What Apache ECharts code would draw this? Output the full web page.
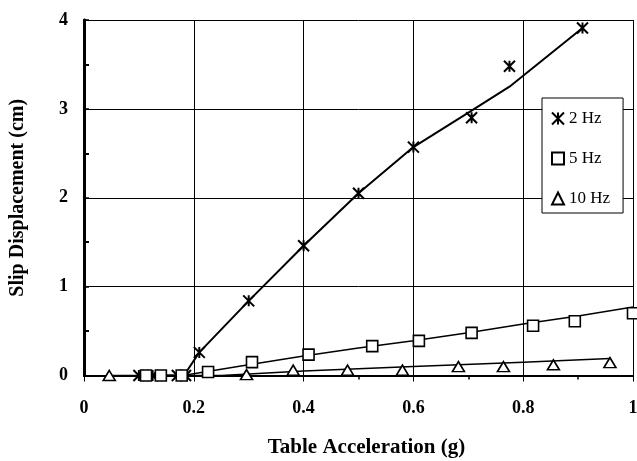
<!DOCTYPE html>
<html>
<head>
<meta charset="utf-8">
<script src="https://cdn.jsdelivr.net/npm/echarts@6/dist/echarts.min.js"></script>
<style>
  html, body { margin: 0; padding: 0; background: #fff; }
  #chart { width: 637px; height: 461px; }
</style>
</head>
<body>
<div id="chart"></div>
<script>
// Measured slip displacement vs. table acceleration at three shaking frequencies
const hz2X = [0.10, 0.125, 0.17, 0.185, 0.21, 0.30, 0.40, 0.50, 0.60, 0.706, 0.775, 0.908];
const hz2Y = [0, 0, 0, 0, 0.26, 0.84, 1.46, 2.05, 2.57, 2.90, 3.48, 3.91];
const hz5X = [0.113, 0.14, 0.178, 0.226, 0.306, 0.409, 0.525, 0.61, 0.706, 0.818, 0.894, 1.0];
const hz5Y = [0, 0, 0, 0.04, 0.15, 0.235, 0.33, 0.39, 0.48, 0.56, 0.61, 0.70];
const hz10X = [0.046, 0.296, 0.381, 0.48, 0.58, 0.682, 0.764, 0.855, 0.958];
const hz10Y = [0, 0.01, 0.06, 0.06, 0.06, 0.10, 0.10, 0.12, 0.145];

// Trend lines drawn through each data set
const fit2X = [0.10, 0.182, 0.21, 0.30, 0.40, 0.50, 0.60, 0.706, 0.775, 0.908];
const fit2Y = [0, 0, 0.26, 0.84, 1.46, 2.05, 2.57, 2.98, 3.25, 3.91];
const fit5X = [0.11, 0.18, 0.30, 0.40, 0.50, 0.60, 0.70, 0.80, 0.90, 1.0];
const fit5Y = [0, 0, 0.12, 0.22, 0.31, 0.39, 0.48, 0.58, 0.67, 0.77];
const fit10X = [0.04, 0.25, 0.40, 0.60, 0.80, 0.958];
const fit10Y = [0, 0, 0.05, 0.10, 0.15, 0.19];

const seriesNames = ['2 Hz', '5 Hz', '10 Hz'];
const xTickLabels = ['0', '0.2', '0.4', '0.6', '0.8', '1'];
const yTickLabels = ['0', '1', '2', '3', '4'];

const pairs = (xs, ys) => xs.map((x, i) => [x, ys[i]]);
const SERIF = '"Liberation Serif", "DejaVu Serif", serif';
const asterisk = 'path://M0,0L10,10M10,0L0,10M5,0L5,10';

const chart = echarts.init(document.getElementById('chart'), null, { renderer: 'canvas' });

chart.setOption({
  backgroundColor: '#fff',
  animation: false,
  grid: { left: 84, top: 20, right: 4, bottom: 85.5, containLabel: false, outerBoundsMode: 'none' },
  legend: {
    data: seriesNames,
    orient: 'vertical',
    left: 542,
    top: 98,
    padding: [12, 13, 6, 9],
    itemGap: 23,
    itemWidth: 12,
    itemHeight: 12,
    backgroundColor: '#fff',
    borderColor: '#000',
    borderWidth: 1,
    borderRadius: 0,
    textStyle: { fontFamily: SERIF, fontSize: 17, color: '#000' }
  },
  xAxis: [{
    type: 'value',
    min: 0, max: 1, interval: 0.2,
    name: 'Table Acceleration (g)',
    nameLocation: 'middle',
    nameGap: 62,
    nameTextStyle: { fontFamily: SERIF, fontSize: 21, fontWeight: 'bold', color: '#000', padding: [0, 0, 0, 16] },
    axisLine: { show: true, onZero: false, lineStyle: { color: '#000', width: 2 } },
    axisTick: { show: true, inside: false, length: 6, lineStyle: { color: '#000', width: 1 } },
    minorTick: { show: true, splitNumber: 2, length: 4, lineStyle: { color: '#000', width: 1.5 } },
    axisLabel: {
      margin: 24, fontFamily: SERIF, fontSize: 18, fontWeight: 'bold', color: '#000',
      formatter: v => xTickLabels[Math.round(v / 0.2)]
    },
    splitLine: { show: true, lineStyle: { color: '#000', width: 1 } }
  }, {
    type: 'value', position: 'top', min: 0, max: 1,
    axisLine: { show: true, lineStyle: { color: '#000', width: 2 } },
    axisTick: { show: false }, axisLabel: { show: false }, splitLine: { show: false }
  }],
  yAxis: [{
    type: 'value',
    min: 0, max: 4, interval: 1,
    name: 'Slip Displacement (cm)',
    nameLocation: 'middle',
    nameGap: 56,
    nameTextStyle: { fontFamily: SERIF, fontSize: 20, fontWeight: 'bold', color: '#000' },
    axisLine: { show: true, onZero: false, lineStyle: { color: '#000', width: 2.5 } },
    axisTick: { show: true, inside: true, length: 5, lineStyle: { color: '#000', width: 1.5 } },
    minorTick: { show: true, splitNumber: 2, length: 5, lineStyle: { color: '#000', width: 2 } },
    axisLabel: {
      margin: 16, fontFamily: SERIF, fontSize: 18, fontWeight: 'bold', color: '#000',
      formatter: v => yTickLabels[Math.round(v)]
    },
    splitLine: { show: true, lineStyle: { color: '#000', width: 1 } }
  }, {
    type: 'value', position: 'right', min: 0, max: 4,
    axisLine: { show: true, lineStyle: { color: '#000', width: 3 } },
    axisTick: { show: false }, axisLabel: { show: false }, splitLine: { show: false }
  }],
  series: [
    {
      name: '2 Hz trend', type: 'line', data: pairs(fit2X, fit2Y),
      showSymbol: false, symbol: 'none', silent: true, z: 3,
      lineStyle: { color: '#000', width: 2 }
    },
    {
      name: '5 Hz trend', type: 'line', data: pairs(fit5X, fit5Y),
      showSymbol: false, symbol: 'none', silent: true, z: 3,
      lineStyle: { color: '#000', width: 1.5 }
    },
    {
      name: '10 Hz trend', type: 'line', data: pairs(fit10X, fit10Y),
      showSymbol: false, symbol: 'none', silent: true, z: 3,
      lineStyle: { color: '#000', width: 1.5 }
    },
    {
      name: '2 Hz', type: 'scatter', data: pairs(hz2X, hz2Y),
      symbol: asterisk, symbolSize: 11, z: 4,
      itemStyle: { color: '#000', borderColor: '#000', borderWidth: 2, opacity: 1 }
    },
    {
      name: '5 Hz', type: 'scatter', data: pairs(hz5X, hz5Y),
      symbol: 'rect', symbolSize: 11, z: 4,
      itemStyle: { color: '#fff', borderColor: '#000', borderWidth: 1.6, opacity: 1 }
    },
    {
      name: '10 Hz', type: 'scatter', data: pairs(hz10X, hz10Y),
      symbol: 'triangle', symbolSize: [12, 10], z: 4,
      itemStyle: { color: '#fff', borderColor: '#000', borderWidth: 1.6, opacity: 1 }
    }
  ]
});
</script>
</body>
</html>
